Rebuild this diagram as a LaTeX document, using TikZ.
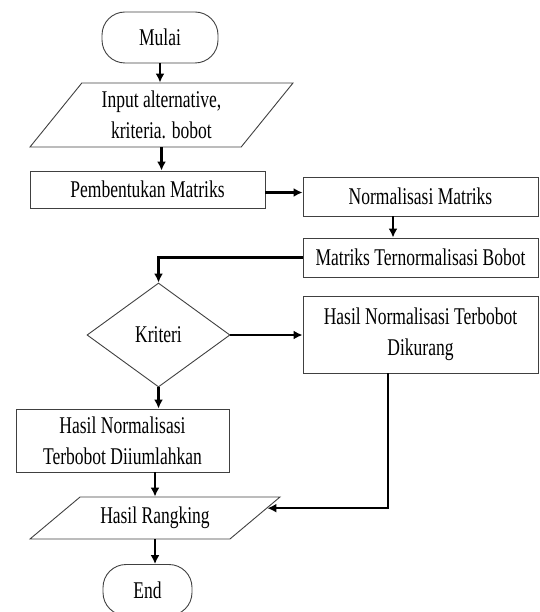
\documentclass[tikz,border=0pt]{standalone}
\usepackage{fontspec}
\setmainfont{Liberation Serif}[FakeStretch=0.73]
\usetikzlibrary{shapes.geometric,arrows.meta}

\begin{document}
\begin{tikzpicture}[x=1pt,y=-1pt,
    box/.style={draw=black!75,line width=0.9pt,inner sep=0pt,align=center,
      font=\fontsize{24}{31}\selectfont},
    terminal/.style={box,rectangle,rounded corners=23pt},
    process/.style={box,rectangle},
    io/.style={box,trapezium,trapezium stretches body},
    decision/.style={box,diamond},
    flow/.style={line width=2.6pt,-{Latex[length=9pt,width=9pt]}}]
  \path[use as bounding box,clip] (0,0) rectangle (539,612);
  \draw
    (160,37.5) node[terminal,minimum width=116pt,minimum height=51pt] (ml){Mulai}
    (161.5,115) node[io,trapezium left angle=51,trapezium right angle=129,
      minimum width=263pt] (in){\parbox[c][64pt][c]{150pt}{\centering Input alternative,\\kriteria. bobot}}
    (147.5,189.5) node[process,minimum width=235pt,minimum height=37pt] (pm){Pembentukan Matriks}
    (420.5,196.5) node[process,minimum width=235pt,minimum height=39pt] (nm){Normalisasi Matriks}
    (420.5,257.5) node[process,minimum width=235pt,minimum height=39pt] (mt){Matriks Ternormalisasi Bobot}
    (158.5,335) node[decision,minimum width=143pt,minimum height=104pt] (kr){Kriteri}
    (420.5,334.5) node[process,minimum width=235pt,minimum height=77pt] (dk){Hasil Normalisasi Terbobot\\Dikurang}
    (122.5,440.5) node[process,minimum width=213pt,minimum height=63pt] (hd){Hasil Normalisasi\\Terbobot Diiumlahkan}
    (155,518) node[io,trapezium left angle=40,trapezium right angle=140,
      minimum width=250pt] (hr){\parbox[c][42pt][c]{140pt}{\centering Hasil Rangking}}
    (147.5,590) node[terminal,minimum width=89pt,minimum height=51pt] (en){End};
  \begin{scope}[flow]
    \draw (ml.south) to (ml.south |- in.north);
    \draw (in.south) to (in.south |- pm.north);
    \draw ([yshift=-3pt]pm.east) to ([yshift=-3pt]pm.east -| nm.west);
    \draw ([xshift=-27.5pt]nm.south) to ([xshift=-27.5pt]mt.north);
    \draw (mt.west) -| (kr.north);
    \draw (kr.east) to (kr.east -| dk.west);
    \draw (kr.south) to (kr.south |- hd.north);
    \draw ([xshift=-32.5pt]dk.south) |- (hr.5);
    \draw (hr.north |- hd.south) to (hr.north);
    \draw (hr.south) to (hr.south |- en.north);
  \end{scope}
\end{tikzpicture}
\end{document}
